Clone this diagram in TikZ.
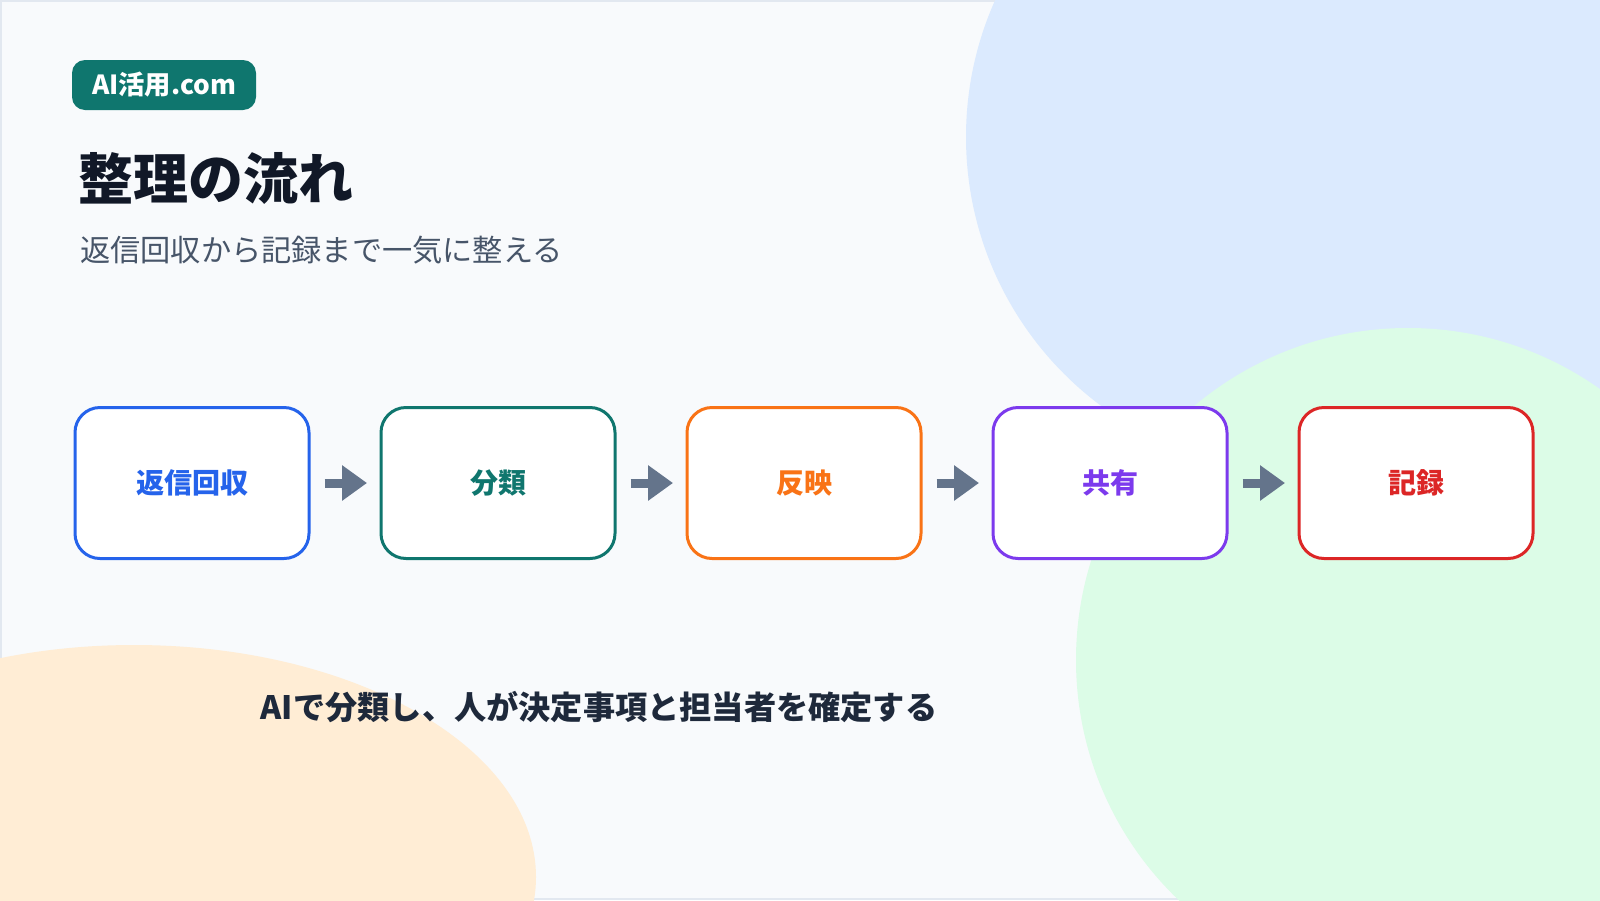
\documentclass[tikz,border=0pt]{standalone}
\usepackage{fontspec}
\setmainfont{Noto Sans CJK JP}
\usetikzlibrary{arrows.meta}
\definecolor{bgc}{HTML}{F8FAFC}
\definecolor{framec}{HTML}{E2E8F0}
\definecolor{bluebg}{HTML}{DBEAFE}
\definecolor{greenbg}{HTML}{DCFCE7}
\definecolor{peachbg}{HTML}{FFEDD5}
\definecolor{teal}{HTML}{0F766E}
\definecolor{titlec}{HTML}{111827}
\definecolor{subc}{HTML}{475569}
\definecolor{arrowc}{HTML}{64748B}
\definecolor{cblue}{HTML}{2563EB}
\definecolor{cteal}{HTML}{0F766E}
\definecolor{corange}{HTML}{F97316}
\definecolor{cviolet}{HTML}{7C3AED}
\definecolor{cred}{HTML}{DC2626}
\definecolor{notec}{HTML}{1E293B}
\begin{document}
\begin{tikzpicture}[x=1pt,y=-1pt,
  stepbox/.style={draw, line width=3pt, fill=white, rounded corners=25pt,
    minimum width=234pt, minimum height=151pt, inner sep=0pt,
    font=\fontsize{28}{32}\selectfont\bfseries},
  flow/.style={draw=arrowc, line width=9pt, -{Triangle[length=25pt,width=34pt]}}]
\useasboundingbox (0,0) rectangle (1600,900);
\clip (0,0) rectangle (1600,900);
\fill[bgc] (0,0) rectangle (1600,900);
\draw[framec, line width=2pt] (1,1) rectangle (1599,899);
\fill[bluebg] (1301,137) circle[radius=335];
\fill[bluebg] (1301,-200) rectangle (1620,472);
\fill[greenbg] (1408,660) circle[radius=332];
\fill[peachbg] (134,877) ellipse[x radius=402, y radius=232];
% header
\node[fill=teal, rounded corners=13pt, minimum width=184pt, minimum height=50pt,
  inner sep=0pt, text=white, font=\fontsize{26.3}{30}\selectfont\bfseries]
  (badge) at (164,85) {AI活用.com};
\node[anchor=west, inner sep=0pt, text=titlec, font=\fontsize{55}{60}\selectfont\bfseries]
  (title) at (78,178) {整理の流れ};
\node[anchor=west, inner sep=0pt, text=subc, font=\fontsize{30.2}{34}\selectfont]
  (sub) at (80,250) {返信回収から記録まで一気に整える};
% steps
\node[stepbox, draw=cblue, text=cblue] (s1) at (192,483) {返信回収};
\node[stepbox, draw=cteal, text=cteal] (s2) at (498,483) {分類};
\node[stepbox, draw=corange, text=corange] (s3) at (804,483) {反映};
\node[stepbox, draw=cviolet, text=cviolet] (s4) at (1110,483) {共有};
\node[stepbox, draw=cred, text=cred] (s5) at (1416,483) {記録};
\draw[flow] ([xshift=14pt]s1.east) -- ([xshift=-12.5pt]s2.west);
\draw[flow] ([xshift=14pt]s2.east) -- ([xshift=-12.5pt]s3.west);
\draw[flow] ([xshift=14pt]s3.east) -- ([xshift=-12.5pt]s4.west);
\draw[flow] ([xshift=14pt]s4.east) -- ([xshift=-12.5pt]s5.west);
% note
\node[inner sep=0pt, text=notec, font=\fontsize{32.2}{36}\selectfont\bfseries]
  (note) at (599,707) {AIで分類し、人が決定事項と担当者を確定する};
\end{tikzpicture}
\end{document}
